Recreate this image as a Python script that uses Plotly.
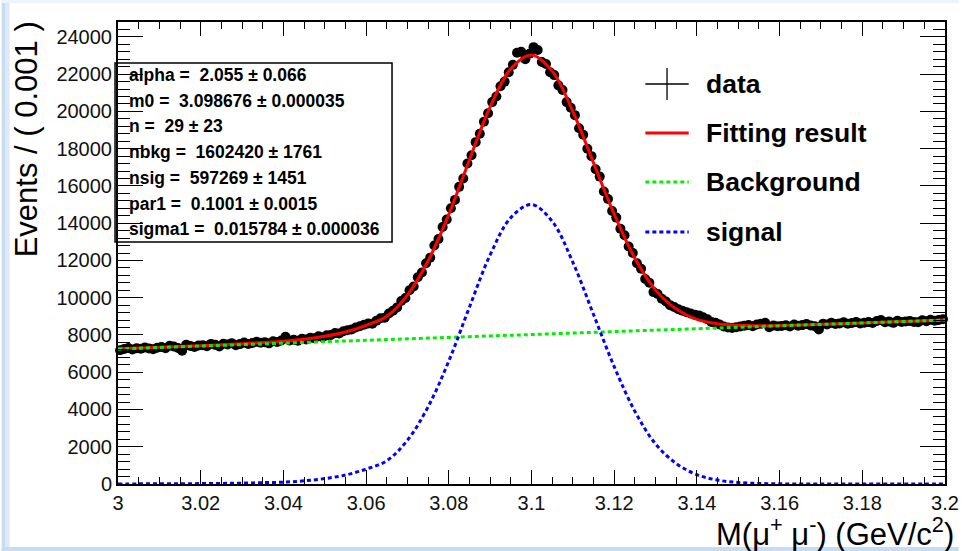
import plotly.graph_objects as go

# ---------------- data ----------------
bin_start = 3.0
bin_width = 0.001
data_counts = [
    7180, 7250, 7300, 7220, 7290, 7260, 7330, 7280, 7240, 7310,
    7350, 7290, 7420, 7380, 7300, 7150, 7480, 7410, 7360, 7440,
    7450, 7400, 7520, 7470, 7380, 7530, 7490, 7560, 7450, 7510,
    7600, 7520, 7570, 7640, 7580, 7610, 7550, 7660, 7620, 7700,
    7900, 7700, 7740, 7690, 7800, 7760, 7850, 7820, 7930, 7880,
    7980, 8000, 8100, 8080, 8200, 8250, 8300, 8400, 8470, 8550,
    8620, 8600, 8760, 8900, 8920, 9150, 9300, 9480, 9820, 9980,
    10400, 10600, 11100, 11350, 11850, 12150, 12800, 13150, 13800, 14200,
    14800, 15250, 15950, 16400, 17200, 17650, 18350, 18800, 19450, 19900,
    20500, 20800, 21350, 21600, 22100, 22500, 23150, 23200, 22800, 23100,
    23450, 23300, 22650, 22550, 22100, 21950, 21400, 21150, 20500, 20200,
    19800, 19100, 18750, 18000, 17600, 16900, 16500, 15700, 15300, 14650,
    14300, 13700, 13350, 12750, 12400, 11850, 11550, 11000, 10800, 10300,
    10200, 9950, 9800, 9600, 9500, 9380, 9300, 9220, 9150, 9080,
    9050, 8950, 8850, 8700, 8650, 8560, 8450, 8400, 8380, 8420,
    8450, 8500, 8530, 8470, 8560, 8600, 8650, 8420, 8510, 8470,
    8480, 8520, 8450, 8560, 8500, 8530, 8590, 8510, 8470, 8300,
    8600, 8560, 8650, 8590, 8620, 8680, 8600, 8640, 8700, 8620,
    8660, 8700, 8640, 8750, 8800, 8680, 8720, 8650, 8760, 8700,
    8720, 8750, 8700, 8680, 8790, 8740, 8820, 8760, 8800, 8850,
]
data_x = [round(bin_start + bin_width * (i + 0.5), 4) for i in range(len(data_counts))]

curve_x = [
    3.000, 3.005, 3.010, 3.015, 3.020, 3.025, 3.030, 3.035, 3.040, 3.045,
    3.050, 3.055, 3.060, 3.065, 3.070, 3.075, 3.080, 3.085, 3.090, 3.095,
    3.100, 3.105, 3.110, 3.115, 3.120, 3.125, 3.130, 3.135, 3.140, 3.145,
    3.150, 3.155, 3.160, 3.165, 3.170, 3.175, 3.180, 3.185, 3.190, 3.195,
    3.200,
]
fit_total = [
    7255, 7296, 7338, 7381, 7427, 7476, 7531, 7593, 7660, 7769,
    7928, 8156, 8515, 9004, 10143, 11981, 14470, 17409, 20248, 22286,
    23025, 22164, 20003, 17241, 14480, 12119, 10408, 9396, 8835, 8600,
    8515, 8500, 8512, 8538, 8571, 8606, 8645, 8684, 8723, 8761,
    8800,
]
background = [
    7250, 7289, 7328, 7366, 7405, 7444, 7483, 7521, 7560, 7599,
    7638, 7676, 7715, 7754, 7793, 7831, 7870, 7909, 7948, 7986,
    8025, 8064, 8103, 8141, 8180, 8219, 8258, 8296, 8335, 8374,
    8413, 8451, 8490, 8529, 8568, 8606, 8645, 8684, 8723, 8761,
    8800,
]
signal = [
    5, 7, 10, 15, 22, 32, 48, 72, 100, 170,
    290, 480, 800, 1250, 2350, 4150, 6600, 9500, 12300, 14300,
    15000, 14100, 11900, 9100, 6300, 3900, 2150, 1100, 500, 210,
    80, 28, 9, 3, 1, 0, 0, 0, 0, 0,
    0,
]

x_tickvals = [3.0, 3.02, 3.04, 3.06, 3.08, 3.1, 3.12, 3.14, 3.16, 3.18, 3.2]
x_ticktext = ["3", "3.02", "3.04", "3.06", "3.08", "3.1", "3.12", "3.14", "3.16", "3.18", "3.2"]
y_tickvals = [0, 2000, 4000, 6000, 8000, 10000, 12000, 14000, 16000, 18000, 20000, 22000, 24000]
y_ticktext = ["0", "2000", "4000", "6000", "8000", "10000", "12000", "14000",
              "16000", "18000", "20000", "22000", "24000"]

stats_lines = [
    "alpha =  2.055 ± 0.066",
    "m0 =  3.098676 ± 0.000035",
    "n =  29 ± 23",
    "nbkg =  1602420 ± 1761",
    "nsig =  597269 ± 1451",
    "par1 =  0.1001 ± 0.0015",
    "sigma1 =  0.015784 ± 0.000036",
]
legend_labels = ["data", "Fitting result", "Background", "signal"]

# ---------------- layout geometry (pixels) ----------------
W, H = 971, 551
L, R, T, B = 118, 957, 22, 484
FONT = "Liberation Sans, Arial, Helvetica, sans-serif"


def px(xp):
    return (xp - L) / (R - L)


def py(yp):
    return (B - yp) / (B - T)


fig = go.Figure()

fig.add_trace(go.Scatter(
    x=data_x, y=data_counts, mode="markers",
    marker=dict(color="black", size=10),
    showlegend=False, cliponaxis=False,
))
fig.add_trace(go.Scatter(
    x=curve_x, y=fit_total, mode="lines", line=dict(color="#ff0000", width=3, shape="spline"),
    showlegend=False,
))
fig.add_trace(go.Scatter(
    x=curve_x, y=background, mode="lines",
    line=dict(color="#00ee00", width=3, dash="4px,3px", shape="spline"),
    showlegend=False,
))
fig.add_trace(go.Scatter(
    x=curve_x, y=signal, mode="lines",
    line=dict(color="#0000ff", width=3, dash="4px,3px", shape="spline"),
    showlegend=False,
))

shapes = []
annotations = []

# background decoration (light blue frame pieces)
shapes.append(dict(type="rect", xref="paper", yref="paper", x0=px(0), x1=px(4), y0=py(H), y1=py(0),
                   fillcolor="#c9ddf1", line=dict(width=0), layer="below"))
shapes.append(dict(type="rect", xref="paper", yref="paper", x0=px(4), x1=px(8), y0=py(H), y1=py(0),
                   fillcolor="#dde9f6", line=dict(width=0), layer="below"))
shapes.append(dict(type="rect", xref="paper", yref="paper", x0=px(0), x1=px(W), y0=py(3), y1=py(0),
                   fillcolor="#eef4fb", line=dict(width=0), layer="below"))
shapes.append(dict(type="rect", xref="paper", yref="paper", x0=px(0), x1=px(W), y0=py(551), y1=py(547),
                   fillcolor="#c6dcf2", line=dict(width=0), layer="below"))

# stats box
shapes.append(dict(type="rect", xref="paper", yref="paper", x0=px(115), x1=px(396), y0=py(242), y1=py(63),
                   line=dict(color="black", width=1.5), fillcolor="rgba(0,0,0,0)"))
for i, t in enumerate(stats_lines):
    annotations.append(dict(
        x=px(127), y=py(75 + i * 25.7), xref="paper", yref="paper",
        text=t.replace(" ", "\u00a0"), showarrow=False, xanchor="left", yanchor="middle",
        font=dict(family=FONT, size=17.5, color="black", weight="bold"),
    ))

# legend (manual, no border)
leg_y = [84, 133, 182, 232]
sx0, sx1 = 653, 697
shapes.append(dict(type="line", xref="paper", yref="paper", x0=px(sx0), x1=px(sx1),
                   y0=py(leg_y[0]), y1=py(leg_y[0]), line=dict(color="black", width=1.3)))
shapes.append(dict(type="line", xref="paper", yref="paper", x0=px(675), x1=px(675),
                   y0=py(68), y1=py(100), line=dict(color="black", width=1.3)))
shapes.append(dict(type="line", xref="paper", yref="paper", x0=px(sx0), x1=px(sx1),
                   y0=py(leg_y[1]), y1=py(leg_y[1]), line=dict(color="#ff0000", width=3)))
shapes.append(dict(type="line", xref="paper", yref="paper", x0=px(sx0), x1=px(sx1),
                   y0=py(leg_y[2]), y1=py(leg_y[2]), line=dict(color="#00ee00", width=3, dash="4px,3px")))
shapes.append(dict(type="line", xref="paper", yref="paper", x0=px(sx0), x1=px(sx1),
                   y0=py(leg_y[3]), y1=py(leg_y[3]), line=dict(color="#0000ff", width=3, dash="4px,3px")))
for lab, yy in zip(legend_labels, leg_y):
    annotations.append(dict(
        x=px(712), y=py(yy), xref="paper", yref="paper", text=lab, showarrow=False,
        xanchor="left", yanchor="middle",
        font=dict(family=FONT, size=26.5, color="black", weight="bold"),
    ))

# axis titles
annotations.append(dict(
    x=px(968), y=py(532), xref="paper", yref="paper",
    text="M(μ<sup>+</sup> μ<sup>-</sup>) (GeV/c<sup>2</sup>)",
    showarrow=False, xanchor="right", yanchor="middle",
    font=dict(family=FONT, size=31, color="black"),
))
annotations.append(dict(
    x=px(26), y=py(19), xref="paper", yref="paper",
    text="Events / ( 0.001 )", textangle=-90,
    showarrow=False, xanchor="center", yanchor="top",
    font=dict(family=FONT, size=31, color="black"),
))

fig.update_layout(
    width=W, height=H, autosize=False,
    margin=dict(l=L, r=W - R, t=T, b=H - B, pad=0),
    paper_bgcolor="white", plot_bgcolor="white",
    shapes=shapes, annotations=annotations,
    showlegend=False,
    font=dict(family=FONT, color="black"),
)
fig.update_xaxes(
    range=[3.0, 3.2], showgrid=False, zeroline=False,
    showline=True, linecolor="black", linewidth=2, mirror="ticks",
    ticks="inside", ticklen=14, tickwidth=1.3, tickcolor="black",
    tickvals=x_tickvals, ticktext=x_ticktext,
    tickfont=dict(family=FONT, size=20, color="#111111"),
    minor=dict(ticks="inside", ticklen=7, dtick=0.005, tickwidth=1.3, tickcolor="black", showgrid=False),
)
fig.update_yaxes(
    range=[0, 24800], showgrid=False, zeroline=False,
    showline=True, linecolor="black", linewidth=2, mirror="ticks",
    ticks="inside", ticklen=25, tickwidth=1.3, tickcolor="black",
    tickvals=y_tickvals, ticktext=y_ticktext,
    tickfont=dict(family=FONT, size=20, color="#111111"),
    minor=dict(ticks="inside", ticklen=12, dtick=400, tickwidth=1.3, tickcolor="black", showgrid=False),
)

fig.write_html(
    "out.html",
    config={"displayModeBar": False},
    post_script="document.body.style.margin='0';document.body.style.padding='0';document.body.style.overflow='hidden';",
)
